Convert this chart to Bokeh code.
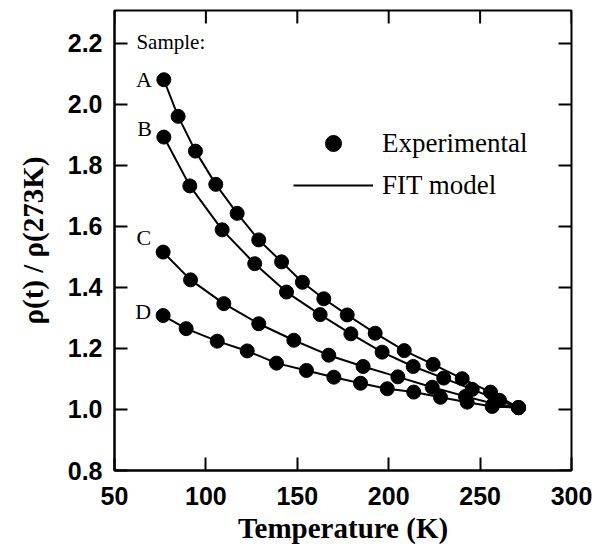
from bokeh.plotting import figure
from bokeh.models import FixedTicker, PrintfTickFormatter, Range1d, Legend, LegendItem, Label
from bokeh.embed import file_html
from bokeh.resources import INLINE

# ---- data ----
temp_A = [77.0, 84.8, 94.3, 105.4, 117.1, 128.9, 141.4, 152.8, 164.5, 177.3,
          192.6, 208.5, 224.3, 240.2, 255.7, 271.0]
rho_A = [2.081, 1.961, 1.847, 1.738, 1.643, 1.556, 1.484, 1.417, 1.363, 1.310,
         1.250, 1.193, 1.148, 1.101, 1.057, 1.006]

temp_B = [77.0, 91.2, 108.9, 126.7, 144.1, 162.5, 179.3, 196.4, 213.4, 230.1,
          245.7, 260.6, 271.0]
rho_B = [1.893, 1.733, 1.589, 1.478, 1.385, 1.311, 1.248, 1.188, 1.141, 1.103,
         1.066, 1.030, 1.006]

temp_C = [76.6, 91.6, 109.8, 128.9, 148.1, 167.2, 186.0, 205.0, 223.8, 242.0,
          257.5, 271.0]
rho_C = [1.516, 1.425, 1.347, 1.281, 1.227, 1.178, 1.141, 1.107, 1.073, 1.043,
         1.019, 1.006]

temp_D = [76.6, 89.2, 106.2, 122.6, 138.6, 155.0, 170.0, 184.6, 199.2, 213.7,
          228.3, 242.9, 256.6, 271.0]
rho_D = [1.308, 1.265, 1.224, 1.192, 1.152, 1.128, 1.106, 1.086, 1.068, 1.057,
         1.040, 1.024, 1.010, 1.006]

series_names = ["A", "B", "C", "D"]
x_ticks = [50, 100, 150, 200, 250, 300]
y_ticks = [0.8, 1.0, 1.2, 1.4, 1.6, 1.8, 2.0, 2.2]
X_MIN, X_MAX = 50, 300
Y_MIN, Y_MAX = 0.8, 2.308

SERIF = "Liberation Serif"
SANS = "Liberation Sans"

p = figure(frame_width=457, frame_height=460, output_backend="svg",
           toolbar_location=None,
           x_range=Range1d(X_MIN, X_MAX), y_range=Range1d(Y_MIN, Y_MAX),
           min_border_left=114, min_border_right=24, min_border_top=10,
           min_border_bottom=84)
p.xgrid.visible = False
p.ygrid.visible = False
p.outline_line_color = "black"
p.outline_line_width = 2
p.background_fill_color = "white"
p.border_fill_color = "white"


def style_axis(ax):
    ax.axis_line_width = 2
    ax.axis_line_color = "black"
    ax.major_tick_in = 13
    ax.major_tick_out = 0
    ax.major_tick_line_width = 2
    ax.major_tick_line_color = "black"
    ax.minor_tick_line_color = None
    ax.major_label_text_font = SANS
    ax.major_label_text_font_style = "bold"
    ax.major_label_text_font_size = "25px"
    ax.major_label_text_color = "black"
    ax.axis_label_text_color = "black"
    ax.axis_label_text_font = SERIF
    ax.axis_label_text_font_style = "bold"


xa = p.xaxis[0]
xa.ticker = FixedTicker(ticks=x_ticks)
style_axis(xa)
xa.major_label_standoff = 16
xa.axis_label = "Temperature (K)"
xa.axis_label_text_font_size = "29px"
xa.axis_label_standoff = 4

ya = p.yaxis[0]
ya.ticker = FixedTicker(ticks=y_ticks)
ya.formatter = PrintfTickFormatter(format="%.1f")
style_axis(ya)
ya.major_label_standoff = 12
ya.axis_label = "\u03c1(t) / \u03c1(273K)"
ya.axis_label_text_font_size = "29px"
ya.axis_label_standoff = 16

# inward ticks on the top and right frame edges (half of each dash is clipped)
p.scatter(x_ticks, [Y_MAX] * len(x_ticks), marker="dash", angle=1.5708,
          size=26, line_color="black", line_width=2)
p.scatter([X_MAX] * len(y_ticks), y_ticks, marker="dash",
          size=26, line_color="black", line_width=2)

all_series = [(temp_A, rho_A), (temp_B, rho_B), (temp_C, rho_C), (temp_D, rho_D)]
label_offsets = [0, 9, 15, 4]
dot_r = None
line_r = None
for name, (tx, ry), yo in zip(series_names, all_series, label_offsets):
    lr = p.line(tx, ry, line_color="black", line_width=2)
    sr = p.scatter(tx, ry, size=14, marker="circle", fill_color="black",
                   line_color="black")
    if dot_r is None:
        dot_r, line_r = sr, lr
    p.add_layout(Label(x=tx[0], y=ry[0], x_offset=-12, y_offset=yo, text=name,
                       text_align="right", text_baseline="middle",
                       text_font=SERIF, text_font_size="22px",
                       text_color="black"))

p.add_layout(Label(x=62, y=2.206, text="Sample:", text_align="left",
                   text_baseline="middle", text_font=SERIF,
                   text_font_size="21px", text_color="black"))

legend = Legend(items=[LegendItem(label="Experimental", renderers=[dot_r]),
                       LegendItem(label="FIT model", renderers=[line_r])],
                location=(179, 265), orientation="vertical",
                glyph_width=80, glyph_height=40, label_height=40,
                spacing=2, padding=0, margin=0, label_standoff=9,
                label_text_font=SERIF, label_text_font_size="27px",
                label_text_color="black",
                border_line_color=None, background_fill_alpha=0)
p.add_layout(legend, "center")

open("out.html", "w").write(file_html(p, INLINE))
